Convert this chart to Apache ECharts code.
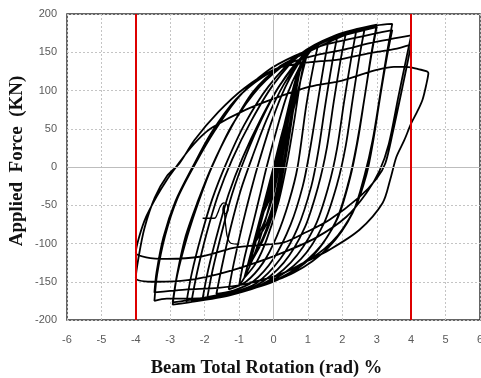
<!DOCTYPE html>
<html><head><meta charset="utf-8">
<script src="https://cdn.jsdelivr.net/npm/echarts@6/dist/echarts.min.js"></script>
<style>html,body{margin:0;padding:0;background:#fff}#c{width:481px;height:378px}</style>
</head><body><div id="c"></div>
<script>
// x: beam total rotation (rad) %, y: applied force (kN)
const xTicks = [-6,-5,-4,-3,-2,-1,0,1,2,3,4,5,6];
const yTicks = [-200,-150,-100,-50,0,50,100,150,200];
const limitLines = [-4, 4];

const elasticCycles = [[0,0],[0.2,36],[0.38,66],[0.25,35],[0.1,0],[-0.1,-33],[-0.3,-58],[-0.15,-32],[0.02,0],[0.2,35],[0.4,70],[0.27,38],[0.15,5],[-0.1,-40],[-0.34,-64],[-0.15,-30],[0.05,5],[0.3,52],[0.56,100],[0.42,65],[0.25,20],[0.0,-35],[-0.25,-70],[-0.48,-92],[-0.25,-50],[0.05,5],[0.35,58],[0.6,104],[0.45,66],[0.3,22],[0.05,-38],[-0.2,-74],[-0.5,-96],[-0.28,-55],[0.05,5],[0.35,62],[0.6,108],[0.8,136],[0.62,98],[0.45,50],[0.3,8],[0.05,-45],[-0.3,-92],[-0.68,-124],[-0.45,-85],[-0.15,-35],[0.1,10],[0.4,65],[0.65,110],[0.82,138],[0.66,100],[0.5,52],[0.35,10],[0.1,-45],[-0.3,-95],[-0.7,-128],[-0.5,-95],[-0.2,-45],[0.12,12],[0.45,70],[0.72,118],[0.94,150],[0.78,112],[0.6,60],[0.42,12],[0.15,-45],[-0.2,-95],[-0.5,-125],[-0.85,-145]];
const cycle1 = [[-0.6,-103],[-0.3,-52],[0.0,0],[0.35,60],[0.65,110],[0.85,138],[1.0,152],[0.85,125],[0.5,60],[0.25,15],[0.0,-30],[-0.3,-80],[-0.6,-120],[-0.85,-145],[-1.0,-155]];
const cycle2 = [[-0.85,-120],[-0.6,-75],[-0.4,-38],[-0.2,0],[0.1,50],[0.4,95],[0.75,130],[1.05,150],[1.3,160],[1.15,130],[0.95,80],[0.7,0],[0.45,-45],[0.1,-90],[-0.3,-125],[-0.8,-150],[-1.3,-160]];
const cycle3 = [[-1.15,-125],[-0.9,-75],[-0.65,-30],[-0.4,10],[-0.05,60],[0.35,105],[0.8,140],[1.2,157],[1.6,166],[1.45,130],[1.25,75],[1.05,20],[0.85,-25],[0.5,-75],[0.0,-120],[-0.6,-150],[-1.2,-162],[-1.66,-166]];
const cycle4 = [[-1.5,-130],[-1.25,-80],[-0.95,-30],[-0.6,15],[-0.2,62],[0.3,108],[0.8,140],[1.3,160],[1.85,170],[1.7,135],[1.5,80],[1.3,20],[1.1,-25],[0.7,-80],[0.2,-120],[-0.5,-152],[-1.2,-164],[-1.92,-170]];
const cycle5 = [[-1.77,-135],[-1.5,-85],[-1.2,-35],[-0.8,15],[-0.35,62],[0.2,108],[0.8,143],[1.4,163],[2.1,174],[1.95,140],[1.75,85],[1.55,25],[1.3,-25],[0.9,-80],[0.3,-125],[-0.5,-155],[-1.3,-166],[-2.06,-172]];
const cycle6 = [[-1.9,-135],[-1.62,-85],[-1.3,-35],[-0.9,12],[-0.4,60],[0.2,108],[0.9,146],[1.6,167],[2.4,177],[2.25,140],[2.05,85],[1.85,25],[1.6,-25],[1.2,-78],[0.5,-125],[-0.4,-155],[-1.4,-168],[-2.38,-175]];
const cycle7 = [[-2.22,-138],[-1.95,-88],[-1.62,-38],[-1.2,10],[-0.65,60],[0.0,108],[0.8,148],[1.7,170],[2.65,181],[2.5,145],[2.3,88],[2.1,28],[1.85,-22],[1.45,-75],[0.8,-120],[-0.2,-152],[-1.3,-168],[-2.53,-177]];
const cycle8 = [[-2.38,-140],[-2.1,-90],[-1.78,-42],[-1.37,5],[-0.85,55],[-0.15,105],[0.7,145],[1.8,172],[3.0,186],[2.85,150],[2.65,92],[2.42,30],[2.18,-20],[1.8,-72],[1.1,-118],[0.1,-148],[-1.2,-166],[-2.2,-175],[-2.93,-180]];
const cycle9 = [[-2.8,-142],[-2.5,-90],[-2.15,-42],[-1.77,2],[-1.2,55],[-0.4,105],[0.5,140],[1.4,162],[2.2,174],[3.0,183],[2.85,148],[2.65,92],[2.45,35],[2.22,-15],[1.85,-68],[1.2,-112],[0.2,-145],[-1.0,-162],[-2.2,-172],[-2.93,-177]];
const cycle10 = [[-2.8,-140],[-2.55,-90],[-2.2,-45],[-1.8,0],[-1.25,50],[-0.6,98],[0.2,132],[0.8,146],[1.5,161],[2.0,171],[2.5,179],[3.0,185],[3.45,187],[3.3,150],[3.1,95],[2.88,35],[2.65,-10],[2.3,-60],[1.6,-105],[0.6,-138],[-0.6,-158],[-1.8,-170],[-2.7,-172],[-3.1,-172],[-3.46,-175]];
const cycle11 = [[-3.38,-140],[-3.15,-90],[-2.8,-42],[-2.3,2],[-1.7,48],[-1.0,92],[-0.2,125],[0.6,145],[1.5,160],[2.3,168],[3.0,175],[3.45,179],[3.3,145],[3.1,92],[2.9,35],[2.7,-10],[2.35,-55],[1.7,-98],[0.7,-130],[-0.5,-150],[-1.6,-158],[-2.5,-160],[-3.0,-162],[-3.46,-164]];
const cycle12 = [[-3.4,-138],[-3.2,-92],[-2.85,-45],[-2.35,0],[-1.8,45],[-1.1,88],[-0.3,118],[0.6,138],[1.3,147],[2.0,153],[2.8,162],[3.5,168],[4.0,172],[3.85,140],[3.62,90],[3.35,30],[3.08,-5],[2.7,-34],[2.12,-65],[1.25,-92],[0.27,-112],[-0.7,-128],[-1.6,-140],[-2.5,-148],[-3.4,-150],[-4.0,-145]];
const cycle13 = [[-3.92,-118],[-3.75,-80],[-3.45,-40],[-3.1,-12],[-2.73,5],[-2.3,35],[-1.6,72],[-0.85,103],[0.0,127],[0.7,135],[1.3,138],[1.83,140],[2.8,149],[3.5,154],[4.0,160],[3.75,105],[3.46,44],[3.25,5],[3.0,-15],[2.5,-39],[1.63,-69],[0.96,-85],[0.27,-99],[-0.7,-103],[-1.2,-106],[-2.1,-117],[-3.1,-120],[-3.7,-118],[-4.0,-112]];
const cycle14 = [[-3.9,-91],[-3.7,-65],[-3.4,-39],[-3.1,-17],[-2.83,0],[-2.5,20],[-2.1,40],[-1.77,52],[-0.8,75],[0.17,92],[1.05,105],[2.0,113],[2.5,120],[3.0,127],[3.5,131],[3.87,131],[4.2,128],[4.5,123],[4.45,110],[4.33,88],[4.15,70],[4.0,57],[3.8,35],[3.57,13],[3.4,-15],[3.17,-47],[2.5,-82],[1.63,-108],[0.8,-127],[0.27,-139],[-0.2,-146],[-0.7,-151]];
const markStroke = [[-2.06,-67],[-1.72,-67],[-1.62,-60],[-1.55,-52],[-1.45,-47],[-1.35,-49],[-1.32,-56],[-1.4,-61],[-1.47,-56],[-1.44,-50],[-1.42,-62],[-1.38,-80],[-1.33,-93],[-1.22,-100],[-1.0,-101]];

const hysteresis = [].concat(elasticCycles, cycle1, cycle2, cycle3, cycle4, cycle5, cycle6, cycle7, cycle8, cycle9, cycle10, cycle11, cycle12, cycle13, cycle14);

const chart = echarts.init(document.getElementById('c'), null, {renderer:'canvas'});
const labelFont = 'Liberation Sans';
const titleFont = 'Liberation Serif';
chart.setOption({
  animation:false,
  backgroundColor:'#fff',
  grid:{left:67, right:1, top:14, bottom:58, show:true, borderColor:'#333', borderWidth:1.5, outerBoundsMode:'none', containLabel:false},
  xAxis:{type:'value', min:xTicks[0], max:xTicks[xTicks.length-1], interval:1,
    name:'Beam Total Rotation (rad) %', nameLocation:'middle', nameGap:39, nameMoveOverlap:false,
    nameTextStyle:{fontFamily:titleFont, fontWeight:'bold', fontSize:18.5, color:'#111', padding:[0,14,0,0]},
    axisLine:{show:false}, axisTick:{show:false},
    axisLabel:{color:'#5a5a5a', fontSize:11, fontFamily:labelFont, margin:14},
    splitLine:{lineStyle:{color:'#c4c4c4', type:[2,2], width:1}}},
  yAxis:{type:'value', min:yTicks[0], max:yTicks[yTicks.length-1], interval:50,
    name:'Applied  Force  (KN)', nameLocation:'middle', nameGap:40, nameMoveOverlap:false,
    nameTextStyle:{fontFamily:titleFont, fontWeight:'bold', fontSize:19, color:'#111', padding:[0,0,0,12]},
    axisLine:{show:false}, axisTick:{show:false},
    axisLabel:{color:'#5a5a5a', fontSize:11, fontFamily:labelFont, margin:10},
    splitLine:{lineStyle:{color:'#c4c4c4', type:[2,2], width:1}}},
  series:[
    {type:'line', data:[], silent:true,
     markLine:{silent:true, symbol:['none','none'], label:{show:false},
       lineStyle:{color:'#bdbdbd', type:'solid', width:1},
       data:[{xAxis:0},{yAxis:0}]}},
    {type:'line', data:hysteresis, showSymbol:false, smooth:0.3,
     lineStyle:{color:'#000', width:1.8}, z:3},
    {type:'line', data:markStroke, showSymbol:false, smooth:0.4,
     lineStyle:{color:'#000', width:1.3}, z:3},
    {type:'line', data:[], silent:true, z:4,
     markLine:{silent:true, symbol:['none','none'], label:{show:false},
       lineStyle:{color:'#dd0000', type:'solid', width:2},
       data:limitLines.map(v=>({xAxis:v}))}}
  ]
});
</script></body></html>
